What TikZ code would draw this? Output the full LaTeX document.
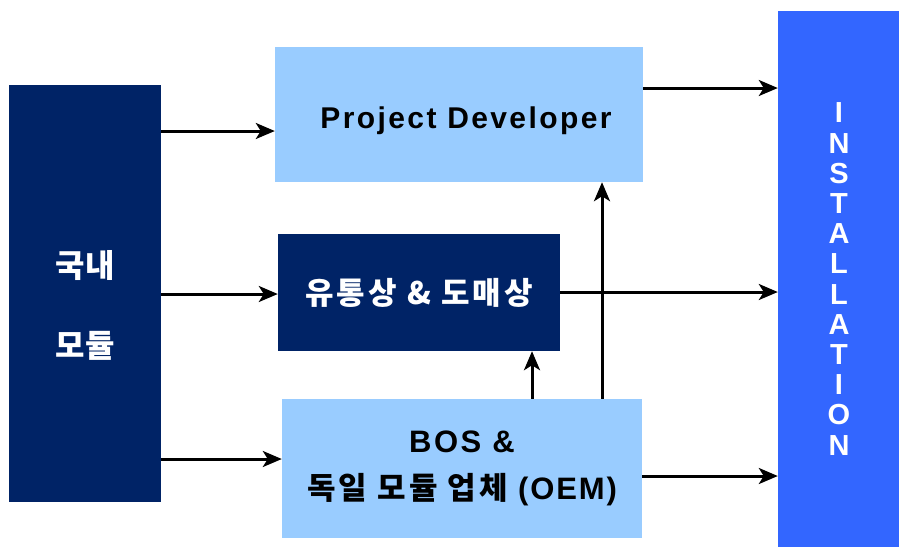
\documentclass[tikz,border=0pt]{standalone}
\usepackage{fontspec}
\setmainfont{Liberation Sans}
\newfontfamily\kr{Noto Sans CJK KR}
\usetikzlibrary{arrows.meta}
\definecolor{navy}{HTML}{002366}
\definecolor{skyblue}{HTML}{99CCFF}
\definecolor{instblue}{HTML}{3366FF}
\begin{document}
\begin{tikzpicture}
  [x=1pt,y=-1pt,
   every node/.style={rectangle,inner sep=0pt,font=\bfseries},
   navybox/.style={fill=navy,text=white},
   lightbox/.style={fill=skyblue,text=black},
   arr/.style={-{Stealth[length=19pt,width=16pt,inset=5pt]},line width=3pt}]
  \useasboundingbox (0,0) rectangle (899,547);
  \node[navybox,minimum width=152,minimum height=417,
    label={[name=modtxt,text=white,align=center,yshift=-11.5pt,
      font=\kr\bfseries\fontsize{32}{36}\selectfont]center:{국내\\[44pt]모듈}}]
    (modul) at (85,293.5) {};
  \node[lightbox,minimum width=368,minimum height=135,text height=33pt,text depth=6pt,
    font=\bfseries\fontsize{30}{34}\selectfont\addfontfeatures{LetterSpace=8}]
    (pd) at (459,114.5) {\hspace{14pt}Project Developer};
  \node[navybox,minimum width=282,minimum height=117,
    font=\kr\bfseries\fontsize{31}{36}\selectfont\addfontfeatures{LetterSpace=10}]
    (dist) at (419,292.5) {유통상 \& 도매상};
  \node[lightbox,minimum width=360,minimum height=139,align=center,
    font=\kr\bfseries\fontsize{31}{36}\selectfont\addfontfeatures{LetterSpace=10}]
    (bos) at (462,468.5)
    {{\rmfamily\bfseries\addfontfeatures{LetterSpace=8}BOS \&}\\[11pt]%
     독일 모듈 업체 {\rmfamily\bfseries\addfontfeatures{LetterSpace=6}(OEM)}};
  \node[fill=instblue,text=white,minimum width=122,minimum height=536,align=center,
    font=\bfseries\fontsize{29}{30.2}\selectfont]
    (inst) at (839,279) {I\\N\\S\\T\\A\\L\\L\\A\\T\\I\\O\\N};
  % arrows
  \draw[arr] (modul.east |- 0,131) -- (pd.west |- 0,131);
  \draw[arr] (modul.east |- 0,294) -- (dist.west |- 0,294);
  \draw[arr] (modul.east |- 0,459) -- (bos.west |- 0,459);
  \draw[arr] (pd.east |- 0,88) -- (inst.west |- 0,88);
  \draw[arr] (dist.east |- 0,292) -- (inst.west |- 0,292);
  \draw[arr] (bos.east |- 0,476) -- (inst.west |- 0,476);
  \draw[arr] (bos.north -| 532,0) -- (dist.south -| 532,0);
  \draw[arr] (bos.north -| 602,0) -- (pd.south -| 602,0);
\end{tikzpicture}
\end{document}
